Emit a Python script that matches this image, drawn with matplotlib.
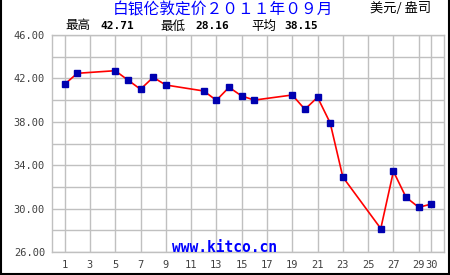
import matplotlib
matplotlib.use("Agg")
import matplotlib.pyplot as plt
from matplotlib.lines import Line2D

days = [1, 2, 5, 6, 7, 8, 9, 12, 13, 14, 15, 16, 19, 20, 21, 22, 23, 26, 27, 28, 29, 30]
prices = [41.46, 42.47, 42.71, 41.85, 41.00, 42.10, 41.39, 40.84, 39.98, 41.18, 40.38,
          40.00, 40.47, 39.15, 40.26, 37.89, 32.91, 28.16, 33.43, 31.04, 30.12, 30.42]
xticks = [1, 3, 5, 7, 9, 11, 13, 15, 17, 19, 21, 23, 25, 27, 29, 30]
yticks = [26, 30, 34, 38, 42, 46]
ygrid = list(range(26, 47, 2))
title = "白银伦敦定价２０１１年０９月"
unit = "美元/ 盎司"
stats = [("最高", "42.71"), ("最低", "28.16"), ("平均", "38.15")]
watermark = "www.kitco.cn"

cjk = ["Noto Sans CJK SC", "DejaVu Sans"]
mono = "DejaVu Sans Mono"

W, H = 450, 275
fig = plt.figure(figsize=(W / 100, H / 100), dpi=100)
fig.patch.set_facecolor("white")

ax = fig.add_axes([52 / W, (H - 252) / H, (444 - 52) / W, (252 - 35) / H])
ax.set_xlim(0, 31)
ax.set_ylim(26, 46)
for g in xticks:
    ax.axvline(g, color="#c0c0c0", lw=1.0, zorder=1)
for g in ygrid:
    ax.axhline(g, color="#c0c0c0", lw=1.0, zorder=1)
for s in ax.spines.values():
    s.set_color("#c0c0c0")
    s.set_linewidth(1.0)

ax.plot(days, prices, color="#ff0000", lw=1.2, zorder=3)
ax.plot(days, prices, linestyle="none", marker="s", markersize=4.8,
        markerfacecolor="#0000b0", markeredgecolor="#0000b0", zorder=4)

ax.set_xticks(xticks)
ax.set_xticklabels([str(t) for t in xticks])
ax.set_yticks(yticks)
ax.set_yticklabels([f"{t:.2f}" for t in yticks])
ax.tick_params(length=0, colors="#404040", labelsize=7.5, pad=5)
for lab in ax.get_xticklabels() + ax.get_yticklabels():
    lab.set_family(mono)
ax.tick_params(axis="x", pad=6)

# watermark
fig.text(225 / W, 1 - 247 / H, watermark, color="#0000ff", fontsize=10.5,
         fontweight="bold", family=mono, ha="center", va="center")

# title and unit
fig.text(223 / W, 1 - 10 / H, title, color="#0000ff", fontsize=11.3,
         family=cjk, ha="center", va="center")
fig.text(401 / W, 1 - 9 / H, unit, color="black", fontsize=9.5,
         family=cjk, ha="center", va="center")

# stats
xs = [(65, 100), (160, 195), (251, 284)]
for (lab, val), (xl, xv) in zip(stats, xs):
    fig.text(xl / W, 1 - 26 / H, lab, color="black", fontsize=9,
             family=cjk, ha="left", va="center")
    fig.text(xv / W, 1 - 26 / H, val, color="black", fontsize=8,
             family=mono, fontweight="bold", ha="left", va="center")

# outer black frame: left, right, bottom
fig.add_artist(Line2D([0.5 / W, 0.5 / W], [0, 1], color="black", lw=1.5, transform=fig.transFigure))
fig.add_artist(Line2D([(W - 1.5) / W, (W - 1.5) / W], [0, 1], color="black", lw=1.5, transform=fig.transFigure))
fig.add_artist(Line2D([0, 1], [1.5 / H, 1.5 / H], color="black", lw=1.5, transform=fig.transFigure))

fig.savefig("out.png", dpi=100)
